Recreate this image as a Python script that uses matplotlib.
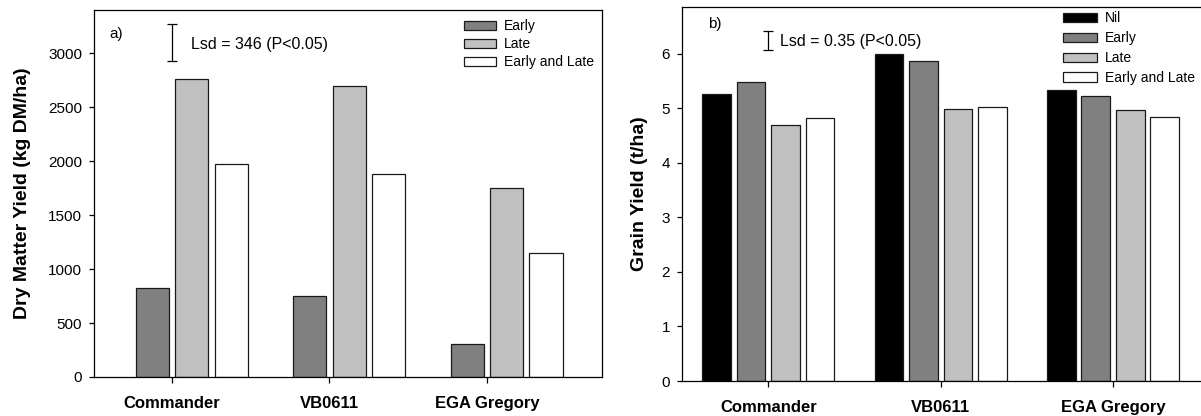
import numpy as np
import matplotlib
matplotlib.use("Agg")
import matplotlib.pyplot as plt

plt.rcParams['font.family'] = ['Liberation Sans', 'DejaVu Sans']

cultivars = ['Commander', 'VB0611', 'EGA Gregory']

# a) dry matter yield (kg DM/ha), no Nil treatment
dm_early = [825, 750, 305]
dm_late = [2760, 2700, 1747]
dm_early_late = [1970, 1880, 1150]
dm_lsd = 346

# b) grain yield (t/ha)
gy_nil = [5.26, 5.99, 5.33]
gy_early = [5.49, 5.87, 5.22]
gy_late = [4.69, 4.98, 4.97]
gy_early_late = [4.83, 5.03, 4.85]
gy_lsd = 0.35

c_nil, c_early, c_late, c_el = 'black', '#808080', '#c0c0c0', 'white'
edge = '#1a1a1a'

fig = plt.figure(figsize=(12.01, 4.16), dpi=100)
ax1 = fig.add_axes([0.0783, 0.0938, 0.4229, 0.8822])
ax2 = fig.add_axes([0.5679, 0.0841, 0.4321, 0.8991])

x = np.arange(len(cultivars))

# ---- panel a  (Nil slot left empty)
w = 0.21
ax1.bar(x - 0.125, dm_early, w, color=c_early, edgecolor=edge, lw=0.9, label='Early')
ax1.bar(x + 0.125, dm_late, w, color=c_late, edgecolor=edge, lw=0.9, label='Late')
ax1.bar(x + 0.375, dm_early_late, w, color=c_el, edgecolor=edge, lw=0.9, label='Early and Late')
ax1.set_xlim(-0.495, 2.73)
ax1.set_ylim(0, 3400)
ax1.set_yticks(np.arange(0, 3001, 500))
ax1.errorbar(0, 3100, yerr=dm_lsd / 2, color='black', capsize=3.5, lw=0.9, capthick=0.9)
ax1.text(0.12, 3077, 'Lsd = %d (P<0.05)' % dm_lsd, fontsize=11.5, va='center', ha='left')
ax1.text(-0.40, 3180, 'a)', fontsize=11, va='center', ha='left')
ax1.set_ylabel('Dry Matter Yield (kg DM/ha)', fontsize=14, fontweight='bold')
ax1.yaxis.set_label_coords(-0.124, 0.5)
ax1.legend(loc='upper left', bbox_to_anchor=(0.728, 0.975), frameon=False, fontsize=10,
           handlelength=2.3, handleheight=0.6, handletextpad=0.62, labelspacing=0.3,
           borderaxespad=0, borderpad=0)

# ---- panel b
w = 0.167
ax2.bar(x - 0.3, gy_nil, w, color=c_nil, edgecolor=edge, lw=0.9, label='Nil')
ax2.bar(x - 0.1, gy_early, w, color=c_early, edgecolor=edge, lw=0.9, label='Early')
ax2.bar(x + 0.1, gy_late, w, color=c_late, edgecolor=edge, lw=0.9, label='Late')
ax2.bar(x + 0.3, gy_early_late, w, color=c_el, edgecolor=edge, lw=0.9, label='Early and Late')
ax2.set_xlim(-0.5, 2.51)
ax2.set_ylim(0, 6.86)
ax2.set_yticks(np.arange(0, 7, 1))
ax2.errorbar(0, 6.25, yerr=gy_lsd / 2, color='black', capsize=3.5, lw=0.9, capthick=0.9)
ax2.text(0.07, 6.22, 'Lsd = %.2f (P<0.05)' % gy_lsd, fontsize=11.5, va='center', ha='left')
ax2.text(-0.35, 6.55, 'b)', fontsize=11, va='center', ha='left')
ax2.set_ylabel('Grain Yield (t/ha)', fontsize=14, fontweight='bold')
ax2.yaxis.set_label_coords(-0.0655, 0.5)
ax2.spines['right'].set_visible(False)
ax2.legend(loc='upper left', bbox_to_anchor=(0.734, 0.9885), frameon=False, fontsize=10,
           handlelength=2.45, handleheight=0.7, handletextpad=0.58, labelspacing=0.43,
           borderaxespad=0, borderpad=0)

for ax in (ax1, ax2):
    ax.set_xticks(x)
    ax.set_xticklabels(cultivars, fontsize=12, fontweight='bold')
    ax.tick_params(axis='x', length=4, width=0.9, pad=10)
    ax.tick_params(axis='y', length=3.5, width=0.9, pad=5, labelsize=11)
    for s in ax.spines.values():
        s.set_linewidth(0.9)

fig.savefig('out.png', dpi=100)
